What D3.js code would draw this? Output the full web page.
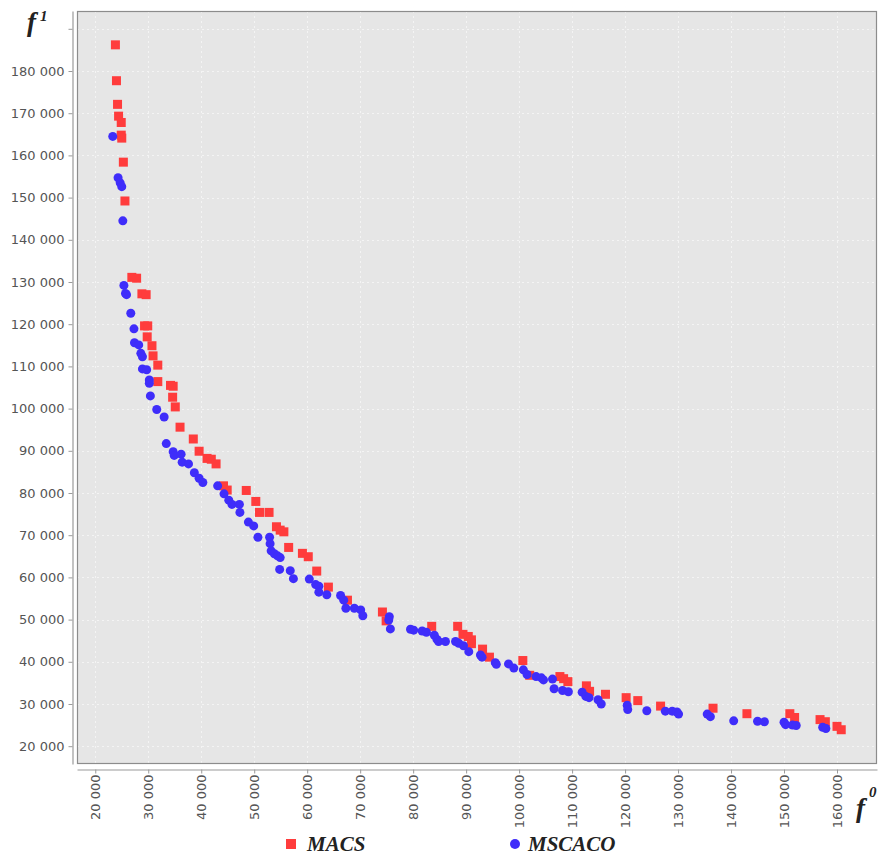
<!DOCTYPE html>
<html>
<head>
<meta charset="utf-8">
<script src="https://cdn.jsdelivr.net/npm/d3@7/dist/d3.min.js"></script>
<style>
  html, body { margin: 0; padding: 0; background: #ffffff; }
  svg { display: block; }
</style>
</head>
<body>
<div id="chart"></div>
<script>
// ---------------- DATA ----------------
const seriesNames = ["MACS", "MSCACO"];

const macsF0 = [23800, 24000, 24200, 24400, 24900, 24900, 25000, 25300, 25600, 26900,
  27800, 28800, 29600, 29300, 29900, 29800, 30700, 30900, 31800, 31800,
  34200, 34700, 34600, 35100, 36000, 38500, 39600, 41100, 41900, 42800,
  44200, 44900, 48500, 50300, 51000, 52800, 54200, 54900, 55600, 56500,
  59100, 60200, 61800, 64000, 67600, 74200, 74900, 83500, 88400, 89400,
  90400, 91000, 91000, 93100, 94400, 100700, 102000, 107700, 108400, 109200,
  112700, 113300, 116300, 120200, 122400, 126700, 136600, 143000, 151100, 152000,
  156800, 157800, 160000, 160800];
const macsF1 = [186200, 177700, 172100, 169300, 167800, 164800, 164100, 158400, 149200, 131100,
  130900, 127200, 127000, 119600, 119600, 117000, 114900, 112500, 110300, 106400,
  105500, 105300, 102700, 100400, 95600, 92800, 89900, 88200, 88000, 86900,
  81700, 80700, 80600, 78000, 75400, 75400, 72000, 71200, 70800, 67100,
  65700, 64900, 61500, 57700, 54600, 51800, 49700, 48400, 48400, 46500,
  46000, 45200, 44300, 43000, 41100, 40300, 36800, 36500, 36000, 35300,
  34300, 33000, 32300, 31500, 30800, 29500, 29000, 27700, 27700, 26800,
  26300, 25800, 24700, 23900];

const mscacoF0 = [23300, 24300, 24700, 25000, 25200, 25400, 25700, 25900, 26700, 27300,
  27400, 28200, 28600, 28900, 28900, 29700, 30200, 30200, 30400, 31600,
  33000, 33400, 34700, 34900, 36200, 36400, 37600, 38700, 39600, 40300,
  43100, 44300, 45200, 45800, 47200, 47300, 48900, 49900, 50700, 52900,
  53000, 53200, 53800, 54400, 54900, 54800, 56800, 57400, 60400, 61600,
  62200, 62200, 63700, 66300, 66900, 67300, 68900, 70100, 70500, 75500,
  75400, 75700, 79500, 80100, 81700, 82500, 84000, 84500, 84800, 86100,
  88000, 88600, 89500, 90500, 92700, 93000, 95500, 95700, 98000, 99000,
  100800, 101500, 103200, 104200, 104600, 106300, 106600, 108200, 109300, 111900,
  112600, 113200, 114900, 115500, 120400, 120500, 124100, 127600, 128900, 129800,
  130100, 135500, 136100, 140500, 145000, 146300, 150000, 150300, 151600, 152300,
  157300, 157900];
const mscacoF1 = [164500, 154700, 153500, 152600, 144500, 129200, 127300, 127000, 122600, 118900,
  115600, 115100, 113100, 112300, 109400, 109200, 106800, 106000, 103000, 99800,
  98000, 91700, 89800, 88900, 89200, 87300, 86900, 84800, 83500, 82500,
  81700, 79800, 78300, 77300, 77300, 75400, 73100, 72200, 69500, 69500,
  68000, 66300, 65600, 65100, 64700, 61900, 61600, 59700, 59600, 58300,
  57900, 56500, 55900, 55700, 54600, 52700, 52700, 52300, 50900, 50700,
  49900, 47800, 47700, 47500, 47300, 47000, 46300, 45300, 44800, 44800,
  44800, 44400, 43800, 42400, 41600, 41100, 39800, 39400, 39500, 38500,
  38100, 37000, 36500, 36200, 35700, 35900, 33600, 33200, 32900, 32800,
  31800, 31500, 31000, 30000, 29700, 28700, 28400, 28300, 28300, 28100,
  27600, 27600, 27000, 26000, 25900, 25800, 25700, 25100, 25000, 24900,
  24500, 24200];

const xTicks = [20000, 30000, 40000, 50000, 60000, 70000, 80000, 90000, 100000,
  110000, 120000, 130000, 140000, 150000, 160000];
const yTicks = [20000, 30000, 40000, 50000, 60000, 70000, 80000, 90000, 100000,
  110000, 120000, 130000, 140000, 150000, 160000, 170000, 180000, 190000];
const yTickLabelShown = [true, true, true, true, true, true, true, true, true,
  true, true, true, true, true, true, true, true, false];

const xDomain = [16550, 167550];
const yDomain = [15780, 194220];

// ---------------- LAYOUT ----------------
const W = 886, H = 856;
const plot = { left: 77, right: 877, top: 11, bottom: 764 };
const colors = { MACS: "#ff3c3c", MSCACO: "#3f2dfa" };

const locale = d3.formatLocale({ decimal: ".", thousands: " ", grouping: [3], currency: ["", ""] });
const fmt = locale.format(",d");

const svg = d3.select("#chart").append("svg")
  .attr("width", W).attr("height", H);

const x = d3.scaleLinear().domain(xDomain).range([plot.left, plot.right]);
const y = d3.scaleLinear().domain(yDomain).range([plot.bottom, plot.top]);

// plot background
svg.append("rect")
  .attr("x", plot.left).attr("y", plot.top)
  .attr("width", plot.right - plot.left).attr("height", plot.bottom - plot.top)
  .attr("fill", "#e6e6e6");

// gridlines
const grid = svg.append("g").attr("stroke", "#f4f4f4").attr("stroke-width", 1)
  .attr("stroke-dasharray", "2,3");
grid.selectAll("line.v").data(xTicks).join("line")
  .attr("class", "v")
  .attr("x1", d => Math.round(x(d)) + 0.5).attr("x2", d => Math.round(x(d)) + 0.5)
  .attr("y1", plot.top).attr("y2", plot.bottom);
grid.selectAll("line.h").data(yTicks).join("line")
  .attr("class", "h")
  .attr("y1", d => Math.round(y(d)) + 0.5).attr("y2", d => Math.round(y(d)) + 0.5)
  .attr("x1", plot.left).attr("x2", plot.right);

// plot outline
svg.append("rect")
  .attr("x", plot.left + 0.5).attr("y", plot.top + 0.5)
  .attr("width", plot.right - plot.left - 1).attr("height", plot.bottom - plot.top - 1)
  .attr("fill", "none").attr("stroke", "#8c8c8c").attr("stroke-width", 1.2);

// axes
const yAxis = d3.axisLeft(y).tickValues(yTicks).tickSize(4).tickSizeOuter(0).tickPadding(4)
  .tickFormat((d, i) => yTickLabelShown[i] ? fmt(d) : "");
const gy = svg.append("g").attr("transform", "translate(72.5,0)").call(yAxis);

const xAxis = d3.axisBottom(x).tickValues(xTicks).tickSize(4).tickSizeOuter(0)
  .tickFormat(d => fmt(d));
const gx = svg.append("g").attr("transform", "translate(0,769.5)").call(xAxis);
gx.selectAll(".tick text")
  .attr("transform", "rotate(-90)")
  .attr("text-anchor", "end")
  .attr("x", -5).attr("y", 0).attr("dy", "0.36em");

[gx, gy].forEach(g => {
  g.select(".domain").attr("stroke", "#9a9a9a").attr("stroke-width", 1.2);
  g.selectAll(".tick line").attr("stroke", "#9a9a9a");
  g.selectAll(".tick text")
    .attr("fill", "#555555")
    .style("font-family", "'DejaVu Sans', sans-serif")
    .style("font-size", "13px");
});

// series points
const macs = macsF0.map((v, i) => ({ f0: v, f1: macsF1[i] }));
const mscaco = mscacoF0.map((v, i) => ({ f0: v, f1: mscacoF1[i] }));
const s = 9;
svg.append("g").selectAll("rect").data(macs).join("rect")
  .attr("x", d => x(d.f0) - s / 2).attr("y", d => y(d.f1) - s / 2)
  .attr("width", s).attr("height", s)
  .attr("fill", colors.MACS);
svg.append("g").selectAll("circle").data(mscaco).join("circle")
  .attr("cx", d => x(d.f0)).attr("cy", d => y(d.f1)).attr("r", 4.5)
  .attr("fill", colors.MSCACO);

// axis titles
const titleFont = "'Liberation Serif', 'Times New Roman', serif";
function axisTitle(xp, yp, main, sup, supDx, supDy) {
  const t = svg.append("text").attr("x", xp).attr("y", yp)
    .style("font-family", titleFont).style("font-style", "italic")
    .style("font-weight", "bold").attr("fill", "#222");
  t.append("tspan").style("font-size", "27px").text(main);
  t.append("tspan").style("font-size", "15px").attr("dx", supDx).attr("dy", supDy).text(sup);
}
axisTitle(27, 31, "f", "1", 4, -10);
axisTitle(856, 817, "f", "0", 4, -20);

// legend
const leg = svg.append("g");
leg.append("rect").attr("x", 286).attr("y", 839).attr("width", 10).attr("height", 10)
  .attr("fill", colors.MACS);
leg.append("text").attr("x", 307).attr("y", 851).text(seriesNames[0])
  .style("font-family", titleFont).style("font-style", "italic").style("font-weight", "bold")
  .style("font-size", "21px").attr("fill", "#222");
leg.append("circle").attr("cx", 515).attr("cy", 844).attr("r", 5).attr("fill", colors.MSCACO);
leg.append("text").attr("x", 528).attr("y", 851).text(seriesNames[1])
  .style("font-family", titleFont).style("font-style", "italic").style("font-weight", "bold")
  .style("font-size", "21px").attr("fill", "#222");
</script>
</body>
</html>
